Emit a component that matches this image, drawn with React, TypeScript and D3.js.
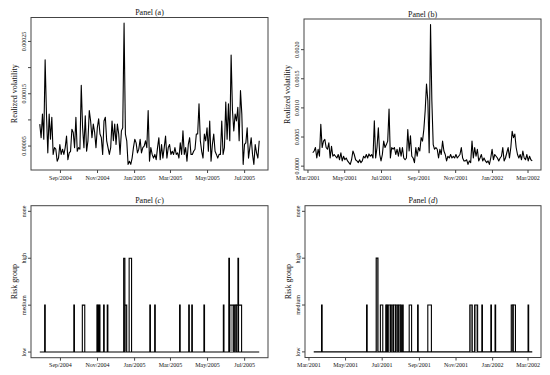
import React from 'react';
import * as d3 from 'd3';

const parse = d3.timeParse('%Y-%m-%d');

// realized volatility, panel (a), in units of 1e-5
const volA = [
  9.2, 6.6, 11.1, 6.3, 21.5, 11.1, 3.7, 11.1, 6.3, 10.5, 3.4, 4.7, 4.4, 2.1, 2.7, 5.3, 3.4, 4.4, 3.4, 4.7,
  6.9, 2.4, 3.7, 4.0, 8.2, 7.6, 4.7, 10.5, 4.0, 4.7, 4.4, 16.6, 8.5, 4.7, 10.8, 4.0, 6.0, 11.8, 9.8, 6.6,
  9.2, 7.6, 4.7, 8.5, 10.2, 7.3, 6.6, 3.4, 9.8, 10.5, 6.0, 4.7, 3.4, 4.7, 9.8, 6.0, 9.2, 5.3, 9.2, 7.3,
  3.4, 7.9, 8.5, 28.5, 7.3, 6.0, 1.5, 2.1, 1.5, 2.7, 4.7, 6.3, 5.6, 3.7, 4.4, 6.3, 3.7, 4.7, 5.0, 6.0,
  4.7, 11.8, 2.1, 4.7, 3.4, 2.7, 3.4, 2.4, 4.7, 6.6, 2.4, 5.3, 2.7, 4.7, 6.9, 2.7, 4.7, 5.3, 3.4, 4.0,
  3.4, 4.7, 3.4, 3.7, 2.7, 5.6, 3.4, 7.9, 3.4, 4.7, 2.1, 5.3, 6.6, 3.4, 3.4, 4.0, 4.4, 7.3, 7.3, 13.1,
  6.0, 4.0, 2.7, 7.3, 6.0, 8.5, 4.0, 9.8, 2.1, 5.3, 7.3, 4.0, 3.4, 2.7, 3.4, 3.4, 9.8, 3.4, 4.7, 13.4,
  6.3, 13.1, 6.0, 22.4, 11.8, 7.9, 11.1, 9.8, 12.4, 6.0, 15.6, 11.1, 1.5, 5.3, 5.6, 8.5, 2.7, 4.7, 6.6, 3.4,
  1.5, 5.3, 3.7, 2.7, 6.0,
].map((v) => v * 1e-5);

// realized volatility, panel (b), in units of 1e-4
const volB = [
  2.3, 2.6, 3.2, 1.4, 2.9, 1.7, 7.2, 3.2, 4.3, 4.6, 3.2, 2.9, 4.0, 1.4, 3.4, 1.7, 2.0, 1.7, 1.4, 2.0,
  1.1, 2.3, 0.9, 1.7, 1.1, 1.4, 0.9, 0.6, 0.3, 1.1, 2.6, 2.0, 1.1, 0.9, 0.6, 1.1, 0.6, 0.9, 1.7, 1.4,
  2.0, 1.4, 2.1, 1.7, 2.0, 1.4, 7.8, 1.4, 3.2, 6.6, 2.0, 0.9, 2.0, 4.3, 3.2, 3.7, 4.3, 9.8, 1.4, 3.2,
  2.9, 3.2, 2.0, 2.9, 1.7, 3.2, 1.7, 3.2, 1.4, 1.1, 1.4, 6.3, 2.6, 5.2, 1.7, 1.4, 0.6, 3.2, 1.7, 3.2,
  2.6, 4.9, 4.3, 6.3, 9.5, 14.1, 11.2, 2.3, 24.3, 11.2, 3.7, 2.9, 3.2, 2.9, 1.4, 2.9, 2.0, 4.3, 2.6, 2.0,
  0.9, 1.7, 1.4, 2.0, 1.4, 1.7, 1.4, 2.0, 1.4, 1.7, 2.0, 3.2, 1.4, 0.9, 0.9, 1.1, 0.3, 0.9, 0.6, 4.3,
  1.4, 3.2, 1.7, 2.9, 0.9, 1.4, 2.0, 0.9, 1.4, 0.9, 0.6, 0.9, 0.3, 1.4, 2.9, 1.1, 2.0, 1.7, 1.4, 0.9,
  1.4, 1.7, 3.2, 0.9, 1.4, 2.3, 3.2, 1.4, 3.2, 6.0, 4.9, 5.5, 3.2, 2.0, 1.4, 2.0, 1.1, 2.6, 1.4, 1.1,
  2.0, 0.9, 1.7, 1.1, 0.9,
].map((v) => v * 1e-4);

const periodA = ['2004-07-29', '2005-07-25'];
const periodB = ['2001-03-09', '2002-03-08'];

const monthTicksA = ['2004-09-01', '2004-11-01', '2005-01-01', '2005-03-01', '2005-05-01', '2005-07-01'];
const monthTicksB = ['2001-03-01', '2001-05-01', '2001-07-01', '2001-09-01', '2001-11-01', '2002-01-01', '2002-03-01'];

const volTicksA = [0.00005, 0.0001, 0.00015, 0.0002, 0.00025];
const volLabelsA = ['0.00005', '', '0.00015', '', '0.00025'];
const volTicksB = [0, 0.0005, 0.001, 0.0015, 0.002];
const volLabelsB = ['0.0000', '0.0005', '0.0010', '0.0015', '0.0020'];

const riskGroups = ['low', 'medium', 'high', 'none'];

// [first day, days, group (1 = low ... 4 = none), mixed with low days]
type Run = [string, number, number, boolean];
const runsC: Run[] = [
  ['2004-08-06', 1, 2, false],
  ['2004-09-23', 1, 2, false],
  ['2004-10-07', 4, 2, false],
  ['2004-10-31', 1, 2, false],
  ['2004-11-02', 1, 2, false],
  ['2004-11-04', 1, 2, false],
  ['2004-11-11', 1, 2, false],
  ['2004-11-17', 1, 2, false],
  ['2004-12-14', 2, 3, false],
  ['2004-12-16', 3, 2, true],
  ['2004-12-23', 4, 3, false],
  ['2005-01-26', 1, 2, false],
  ['2005-02-03', 1, 2, false],
  ['2005-03-16', 1, 2, false],
  ['2005-03-31', 1, 2, false],
  ['2005-04-05', 1, 2, false],
  ['2005-04-25', 1, 2, false],
  ['2005-05-27', 1, 2, false],
  ['2005-06-05', 1, 3, false],
  ['2005-06-06', 7, 2, true],
  ['2005-06-14', 3, 2, true],
  ['2005-06-17', 9, 2, false],
  ['2005-06-20', 1, 3, false],
];

const runsD: Run[] = [
  ['2001-03-22', 1, 2, false],
  ['2001-06-05', 1, 2, false],
  ['2001-06-21', 3, 3, true],
  ['2001-06-28', 4, 2, false],
  ['2001-07-07', 1, 2, false],
  ['2001-07-09', 1, 2, false],
  ['2001-07-11', 4, 2, true],
  ['2001-07-16', 3, 2, true],
  ['2001-07-20', 3, 2, false],
  ['2001-07-24', 3, 2, true],
  ['2001-07-28', 3, 2, true],
  ['2001-08-01', 1, 2, false],
  ['2001-08-04', 1, 2, false],
  ['2001-08-15', 4, 2, false],
  ['2001-08-29', 1, 2, false],
  ['2001-09-15', 6, 2, false],
  ['2001-11-24', 4, 2, true],
  ['2001-12-02', 5, 2, true],
  ['2001-12-14', 1, 2, false],
  ['2001-12-29', 1, 2, false],
  ['2002-01-05', 1, 2, false],
  ['2002-02-01', 3, 2, true],
  ['2002-02-04', 4, 2, false],
  ['2002-03-01', 1, 2, false],
];

const FONT = '"Liberation Serif", "Times New Roman", serif';

interface Box {
  x0: number;
  x1: number;
  y0: number;
  y1: number;
}

// R style 4% padding around the data range
function padded(lo: number, hi: number): [number, number] {
  const p = (hi - lo) * 0.04;
  return [lo - p, hi + p];
}

function timeScale(period: string[], box: Box) {
  const t0 = parse(period[0])!.getTime();
  const t1 = parse(period[1])!.getTime();
  const [a, b] = padded(t0, t1);
  return d3.scaleTime().domain([new Date(a), new Date(b)]).range([box.x0, box.x1]);
}

interface FrameProps {
  box: Box;
  title: string;
  letter: string;
  italic: boolean;
  x: d3.ScaleTime<number, number>;
  y: d3.ScaleLinear<number, number>;
  monthTicks: string[];
  yTicks: number[];
  yLabels: string[];
  yTitle: string;
  children?: React.ReactNode;
}

function Frame({ box, title, letter, italic, x, y, monthTicks, yTicks, yLabels, yTitle, children }: FrameProps) {
  const fmt = d3.timeFormat('%b/%Y');
  const cy = (box.y0 + box.y1) / 2;
  return (
    <g fontFamily={FONT}>
      {children}
      <rect x={box.x0} y={box.y0} width={box.x1 - box.x0} height={box.y1 - box.y0} fill="none" stroke="#444" strokeWidth={1} />
      <text x={(box.x0 + box.x1) / 2} y={box.y0 - 2.5} textAnchor="middle" fontSize={8} fill="#111">
        {title} (<tspan fontStyle={italic ? 'italic' : 'normal'}>{letter}</tspan>)
      </text>
      {monthTicks.map((m) => {
        const d = parse(m)!;
        const px = x(d);
        return (
          <g key={m}>
            <line x1={px} x2={px} y1={box.y1} y2={box.y1 + 3} stroke="#444" />
            <text x={px} y={box.y1 + 9.5} textAnchor="middle" fontSize={6} fill="#111">
              {fmt(d)}
            </text>
          </g>
        );
      })}
      {yTicks.map((t, i) => {
        const py = y(t);
        return (
          <g key={t}>
            <line x1={box.x0 - 3} x2={box.x0} y1={py} y2={py} stroke="#444" />
            {yLabels[i] && (
              <text transform={`translate(${box.x0 - 5},${py}) rotate(-90)`} textAnchor="middle" fontSize={6} fill="#111">
                {yLabels[i]}
              </text>
            )}
          </g>
        );
      })}
      <text transform={`translate(${box.x0 - 14},${cy}) rotate(-90)`} textAnchor="middle" fontSize={8} fill="#111">
        {yTitle}
      </text>
    </g>
  );
}

function VolPanel({ box, letter, vol, period, monthTicks, yTicks, yLabels }: {
  box: Box;
  letter: string;
  vol: number[];
  period: string[];
  monthTicks: string[];
  yTicks: number[];
  yLabels: string[];
}) {
  const x = timeScale(period, box);
  const [lo, hi] = d3.extent(vol) as [number, number];
  const y = d3.scaleLinear().domain(padded(lo, hi)).range([box.y1, box.y0]);
  const when = d3
    .scaleLinear()
    .domain([0, vol.length - 1])
    .range([parse(period[0])!.getTime(), parse(period[1])!.getTime()]);
  const line = d3
    .line<number>()
    .x((_, i) => x(new Date(when(i))))
    .y((v) => y(v));
  return (
    <Frame box={box} title="Panel" letter={letter} italic={false} x={x} y={y} monthTicks={monthTicks}
      yTicks={yTicks} yLabels={yLabels} yTitle="Realized volatility">
      <path d={line(vol) ?? ''} fill="none" stroke="#000" strokeWidth={1.1} strokeLinejoin="round" />
    </Frame>
  );
}

function RiskPanel({ box, letter, runs, period, monthTicks }: {
  box: Box;
  letter: string;
  runs: Run[];
  period: string[];
  monthTicks: string[];
}) {
  const x = timeScale(period, box);
  const y = d3.scaleLinear().domain(padded(1, 4)).range([box.y1, box.y0]);
  const base = y(1);
  return (
    <Frame box={box} title="Panel" letter={letter} italic={true} x={x} y={y} monthTicks={monthTicks}
      yTicks={[1, 2, 3, 4]} yLabels={riskGroups} yTitle="Risk group">
      <line x1={x(parse(period[0])!)} x2={x(parse(period[1])!)} y1={base} y2={base} stroke="#000" strokeWidth={1.1} />
      {runs.map(([start, days, group, mixed], i) => {
        const d0 = parse(start)!;
        const xa = x(d0);
        const xb = x(d3.timeDay.offset(d0, days));
        const top = y(group);
        return (
          <g key={i}>
            {mixed && <rect x={xa} y={top} width={xb - xa} height={base - top} fill="#999" />}
            <path d={`M${xa},${base}V${top}H${xb}V${base}`} fill="none" stroke="#000" strokeWidth={1.1} />
          </g>
        );
      })}
    </Frame>
  );
}

export default function App() {
  const boxA = { x0: 31, x1: 268, y0: 17.5, y1: 170 };
  const boxB = { x0: 304, x1: 541, y0: 19, y1: 170 };
  const boxC = { x0: 31, x1: 268, y0: 205.7, y1: 357.7 };
  const boxD = { x0: 305, x1: 541, y0: 205.7, y1: 357.5 };
  return (
    <svg width={550} height={375} style={{ position: 'absolute', left: 0, top: 0, background: '#fff' }}>
      <rect width={550} height={375} fill="#fff" />
      <VolPanel box={boxA} letter="a" vol={volA} period={periodA} monthTicks={monthTicksA} yTicks={volTicksA} yLabels={volLabelsA} />
      <VolPanel box={boxB} letter="b" vol={volB} period={periodB} monthTicks={monthTicksB} yTicks={volTicksB} yLabels={volLabelsB} />
      <RiskPanel box={boxC} letter="c" runs={runsC} period={periodA} monthTicks={monthTicksA} />
      <RiskPanel box={boxD} letter="d" runs={runsD} period={periodB} monthTicks={monthTicksB} />
    </svg>
  );
}
